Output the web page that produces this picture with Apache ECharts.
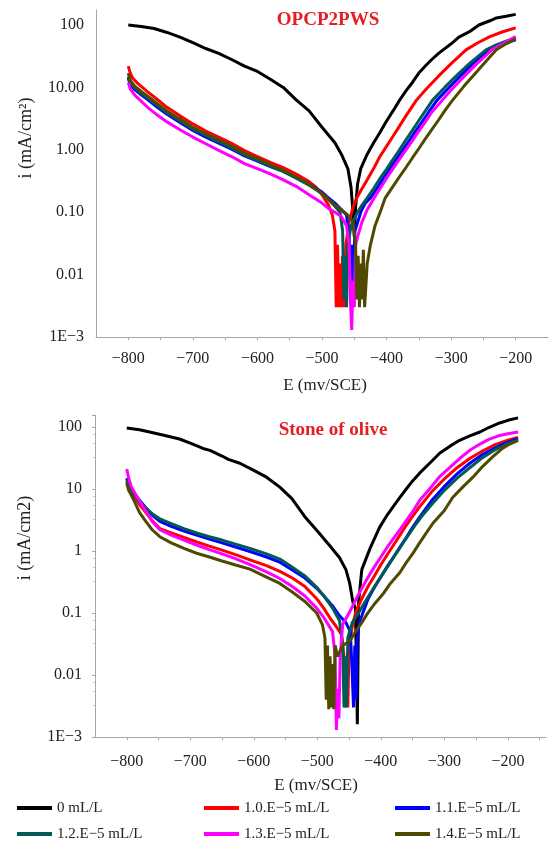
<!DOCTYPE html>
<html>
<head>
<meta charset="utf-8">
<script src="https://cdn.jsdelivr.net/npm/echarts@6/dist/echarts.min.js"></script>
<style>
  html, body { margin: 0; padding: 0; background: #ffffff; }
  #chart { width: 560px; height: 847px; }
</style>
</head>
<body>
<div id="chart"></div>
<script>
// Potentiodynamic polarization curves: [E (mV/SCE), i (mA/cm2)]
const seriesNames = ['0 mL/L', '1.0.E\u22125 mL/L', '1.1.E\u22125 mL/L', '1.2.E\u22125 mL/L', '1.3.E\u22125 mL/L', '1.4.E\u22125 mL/L'];
const seriesColors = ['#000000', '#ff0000', '#0000ff', '#005b57', '#ff00ff', '#4f4a00'];

const topTitle = 'OPCP2PWS';
const bottomTitle = 'Stone of olive';
const topYTickLabels = ['1E\u22123', '0.01', '0.10', '1.00', '10.00', '100'];
const bottomYTickLabels = ['1E\u22123', '0.01', '0.1', '1', '10', '100'];
const xTickValues = [-800, -700, -600, -500, -400, -300, -200];

// OPCP2PWS
const opcp_0 = [[-800,100],[-780,95],[-760,88],[-740,76],[-720,64],[-700,52],[-680,42],[-660,35],[-640,28],[-620,22],[-600,18],[-580,13.5],[-560,10],[-540,6.3],[-520,4.2],[-500,2.3],[-480,1.3],[-470,0.85],[-460,0.5],[-455,0.25],[-452,0.1],[-450,0.04],[-448,0.12],[-445,0.28],[-440,0.5],[-430,0.85],[-420,1.3],[-411,1.84],[-400,2.9],[-390,4.2],[-380,6.2],[-370,8.8],[-360,12],[-350,17],[-340,22],[-330,28],[-319,35.5],[-300,50],[-288,64],[-270,80],[-257,100],[-240,117],[-230,130],[-215,138],[-200,148]];
const opcp_1 = [[-800,22],[-797,17],[-793,14],[-785,11.5],[-770,8.5],[-755,6.4],[-740,4.8],[-720,3.5],[-700,2.6],[-680,2.0],[-660,1.6],[-640,1.27],[-620,0.97],[-600,0.78],[-580,0.63],[-560,0.52],[-540,0.41],[-520,0.31],[-509,0.25],[-500,0.19],[-490,0.13],[-484,0.09],[-480,0.05],[-478,0.003],[-476,0.03],[-474,0.003],[-472,0.015],[-470,0.003],[-468,0.02],[-466,0.003],[-463,0.03],[-458,0.07],[-452,0.12],[-446,0.17],[-440,0.22],[-430,0.33],[-420,0.5],[-411,0.76],[-400,1.14],[-390,1.65],[-380,2.4],[-370,3.5],[-354,6.2],[-340,9.1],[-320,15],[-300,24],[-277,40],[-260,51],[-240,65],[-220,78],[-200,90]];
const opcp_2 = [[-800,14],[-797,11],[-790,9.2],[-780,7.6],[-770,6.4],[-755,4.8],[-740,3.7],[-720,2.75],[-700,2.05],[-680,1.6],[-660,1.28],[-640,1.02],[-620,0.8],[-600,0.66],[-580,0.54],[-560,0.45],[-540,0.36],[-520,0.28],[-500,0.21],[-490,0.17],[-480,0.14],[-470,0.11],[-462,0.09],[-458,0.04],[-456,0.008],[-454,0.03],[-452,0.006],[-449,0.05],[-440,0.1],[-433,0.14],[-425,0.17],[-415,0.24],[-405,0.35],[-395,0.5],[-385,0.71],[-375,1.0],[-365,1.4],[-355,2.0],[-345,2.8],[-335,4.0],[-322,6.2],[-305,9.5],[-285,15.5],[-265,25],[-242,40],[-225,48],[-200,58]];
const opcp_3 = [[-800,15],[-797,12],[-790,9.8],[-780,8],[-770,6.8],[-755,5.1],[-740,3.9],[-720,2.9],[-700,2.15],[-680,1.7],[-660,1.35],[-640,1.07],[-620,0.83],[-600,0.68],[-580,0.55],[-560,0.45],[-540,0.35],[-520,0.27],[-500,0.2],[-490,0.16],[-480,0.125],[-472,0.1],[-468,0.05],[-466,0.004],[-464,0.02],[-462,0.003],[-460,0.03],[-455,0.06],[-445,0.1],[-438,0.13],[-430,0.17],[-420,0.24],[-410,0.35],[-400,0.49],[-391,0.68],[-380,1.0],[-370,1.45],[-360,2.05],[-350,2.95],[-340,4.2],[-329,6.2],[-310,10],[-290,16],[-270,25],[-246,40],[-230,48],[-215,55],[-200,62]];
const opcp_4 = [[-800,12],[-797,9.5],[-790,7.5],[-780,6],[-770,4.8],[-755,3.6],[-740,2.8],[-720,2.1],[-700,1.6],[-680,1.25],[-660,0.98],[-640,0.78],[-620,0.6],[-600,0.5],[-580,0.41],[-560,0.33],[-540,0.26],[-520,0.19],[-500,0.14],[-490,0.115],[-480,0.1],[-470,0.085],[-462,0.06],[-458,0.03],[-456,0.004],[-454,0.0013],[-452,0.008],[-450,0.003],[-448,0.03],[-445,0.04],[-438,0.07],[-430,0.11],[-419,0.17],[-410,0.24],[-400,0.35],[-390,0.5],[-380,0.71],[-370,1.0],[-360,1.4],[-350,2.0],[-340,2.8],[-330,4.0],[-314,6.2],[-300,9.1],[-280,15],[-260,24],[-237,40],[-220,50],[-200,65]];
const opcp_5 = [[-800,17],[-797,13],[-790,10.5],[-780,8.6],[-770,7.2],[-755,5.5],[-740,4.2],[-720,3.1],[-700,2.3],[-680,1.8],[-660,1.45],[-640,1.15],[-620,0.88],[-600,0.72],[-580,0.58],[-560,0.47],[-540,0.37],[-520,0.28],[-500,0.2],[-490,0.16],[-480,0.13],[-470,0.11],[-460,0.09],[-452,0.07],[-448,0.03],[-446,0.004],[-444,0.02],[-442,0.003],[-440,0.015],[-438,0.004],[-436,0.025],[-434,0.003],[-430,0.015],[-425,0.03],[-418,0.06],[-410,0.1],[-402,0.17],[-390,0.26],[-380,0.37],[-370,0.52],[-360,0.74],[-350,1.05],[-340,1.5],[-330,2.1],[-320,2.95],[-310,4.2],[-298,6.2],[-280,10.5],[-260,18],[-245,27],[-230,40],[-215,50],[-200,60]];

// Stone of olive
const olive_0 = [[-800,96],[-780,90],[-764,83],[-740,73],[-717,64],[-700,55],[-680,45],[-669,42],[-650,34],[-640,30],[-622,26],[-600,20],[-580,15.5],[-559,10.7],[-540,7],[-520,3.6],[-500,2.1],[-480,1.2],[-465,0.78],[-455,0.5],[-449,0.3],[-444,0.15],[-440,0.12],[-437,0.0016],[-435,0.15],[-430,0.5],[-417,1.1],[-402,2.4],[-390,3.8],[-380,5.3],[-370,7.3],[-360,10],[-350,13.5],[-339,18],[-320,28],[-307,38],[-290,50],[-276,61],[-260,72],[-244,83],[-230,98],[-213,116],[-200,128],[-184,140]];
const olive_1 = [[-800,13],[-797,10.5],[-790,8.3],[-780,5.6],[-770,4.2],[-760,3.1],[-748,2.3],[-730,1.95],[-710,1.65],[-690,1.4],[-670,1.2],[-650,1.03],[-630,0.88],[-606,0.72],[-580,0.58],[-559,0.47],[-540,0.37],[-520,0.27],[-501,0.17],[-490,0.12],[-480,0.083],[-470,0.06],[-462,0.045],[-458,0.02],[-456,0.003],[-454,0.01],[-452,0.003],[-450,0.03],[-445,0.06],[-440,0.1],[-430,0.17],[-420,0.27],[-410,0.4],[-400,0.6],[-390,0.87],[-380,1.25],[-370,1.8],[-360,2.6],[-350,3.6],[-340,5],[-320,9],[-300,14.5],[-280,22],[-260,31],[-240,41],[-220,52],[-200,61],[-184,68]];
const olive_2 = [[-800,15],[-797,11.5],[-790,9],[-780,6.6],[-770,5.0],[-760,3.8],[-748,3.0],[-730,2.5],[-710,2.1],[-690,1.8],[-670,1.55],[-650,1.35],[-630,1.17],[-606,0.98],[-580,0.8],[-559,0.66],[-540,0.5],[-520,0.37],[-501,0.25],[-490,0.19],[-476,0.13],[-465,0.09],[-455,0.07],[-448,0.05],[-445,0.01],[-443,0.003],[-441,0.03],[-439,0.004],[-437,0.04],[-434,0.07],[-430,0.09],[-420,0.17],[-410,0.26],[-400,0.38],[-390,0.56],[-380,0.8],[-370,1.15],[-360,1.65],[-350,2.4],[-340,3.4],[-320,6.5],[-300,11],[-280,17.5],[-260,26],[-240,36],[-220,46],[-200,57],[-184,65]];
const olive_3 = [[-800,14],[-797,11.5],[-790,9],[-780,6.2],[-770,4.9],[-760,4.0],[-748,3.3],[-730,2.75],[-710,2.3],[-690,1.95],[-670,1.7],[-650,1.5],[-630,1.3],[-606,1.1],[-580,0.9],[-559,0.74],[-540,0.55],[-520,0.4],[-501,0.26],[-490,0.19],[-476,0.12],[-465,0.075],[-460,0.03],[-458,0.003],[-456,0.02],[-454,0.003],[-452,0.04],[-445,0.07],[-435,0.1],[-425,0.15],[-415,0.22],[-405,0.32],[-395,0.46],[-385,0.66],[-375,0.94],[-365,1.35],[-355,1.9],[-345,2.7],[-335,3.7],[-320,5.6],[-300,9.5],[-280,15],[-260,22],[-240,32],[-220,43],[-200,54],[-184,62]];
const olive_4 = [[-800,21],[-797,15],[-793,11],[-787,8.5],[-780,6.4],[-770,4.4],[-760,3.0],[-748,2.2],[-730,1.8],[-710,1.5],[-690,1.25],[-670,1.05],[-650,0.9],[-630,0.76],[-606,0.6],[-580,0.46],[-559,0.36],[-540,0.27],[-520,0.19],[-501,0.12],[-490,0.085],[-476,0.05],[-472,0.02],[-470,0.0013],[-468,0.006],[-466,0.002],[-464,0.02],[-460,0.066],[-450,0.1],[-440,0.16],[-430,0.25],[-420,0.38],[-410,0.56],[-400,0.8],[-390,1.15],[-380,1.6],[-370,2.2],[-360,3.1],[-350,4.3],[-339,6.5],[-320,11],[-307,16],[-290,23],[-276,31],[-260,42],[-244,53],[-230,63],[-213,73],[-200,78],[-184,83]];
const olive_5 = [[-800,12.3],[-797,9.5],[-790,7],[-780,4.2],[-770,3.0],[-760,2.2],[-748,1.7],[-730,1.35],[-710,1.1],[-690,0.92],[-670,0.8],[-650,0.69],[-630,0.6],[-606,0.51],[-580,0.38],[-559,0.3],[-540,0.22],[-520,0.155],[-501,0.1],[-492,0.065],[-488,0.04],[-486,0.004],[-484,0.03],[-482,0.0028],[-480,0.02],[-478,0.003],[-476,0.015],[-474,0.0028],[-472,0.03],[-468,0.02],[-460,0.03],[-449,0.035],[-440,0.05],[-430,0.07],[-422,0.095],[-410,0.14],[-397,0.2],[-385,0.3],[-370,0.45],[-360,0.65],[-350,0.9],[-340,1.3],[-330,1.85],[-318,2.8],[-300,4.5],[-287,7.3],[-270,11],[-255,15.5],[-240,23],[-224,33],[-210,44],[-197,53],[-184,61]];

const topCurves = [opcp_0, opcp_1, opcp_2, opcp_3, opcp_4, opcp_5];
const bottomCurves = [olive_0, olive_1, olive_2, olive_3, olive_4, olive_5];

const serif = 'Liberation Serif, Times New Roman, serif';
const axisGrey = '#a6a6a6';
const textColor = '#222222';

function xLabel(v) {
  return xTickValues.indexOf(v) >= 0 ? '\u2212' + Math.abs(v) : '';
}
function logLabel(labels) {
  return function (v) {
    const e = Math.log10(v);
    const k = Math.round(e);
    if (Math.abs(e - k) > 1e-6) return '';
    return labels[k + 3] || '';
  };
}
function xAxisCfg(gridIndex, max, margin) {
  return {
    gridIndex, type: 'value', min: -850, max, interval: 50,
    axisLine: { show: true, onZero: false, lineStyle: { color: axisGrey, width: 1 } },
    axisTick: { show: true, length: 3, lineStyle: { color: axisGrey } },
    splitLine: { show: false },
    axisLabel: { formatter: xLabel, fontFamily: serif, fontSize: 16, color: textColor, margin, showMaxLabel: false, showMinLabel: false }
  };
}
function yAxisCfg(gridIndex, max, labels, margin, ticks) {
  return {
    gridIndex, type: 'log', logBase: 10, min: 0.001, max,
    axisLine: { show: true, lineStyle: { color: axisGrey, width: 1 } },
    axisTick: { show: ticks, length: 3, lineStyle: { color: axisGrey } },
    minorTick: { show: ticks, splitNumber: 4, length: 2, lineStyle: { color: '#c8c8c8' } },
    splitLine: { show: false },
    axisLabel: { formatter: logLabel(labels), fontFamily: serif, fontSize: 16, color: textColor, margin }
  };
}

const series = [];
[topCurves, bottomCurves].forEach(function (curves, g) {
  curves.forEach(function (data, i) {
    series.push({
      type: 'line', name: seriesNames[i], xAxisIndex: g, yAxisIndex: g,
      data, showSymbol: false, symbol: 'none', animation: false,
      lineStyle: { width: 3, color: seriesColors[i] },
      itemStyle: { color: seriesColors[i] }
    });
  });
});

const legendCommon = {
  orient: 'vertical', icon: 'rect', itemWidth: 35, itemHeight: 4, itemGap: 8,
  padding: 0, selectedMode: false,
  textStyle: { fontFamily: serif, fontSize: 15, color: textColor, lineHeight: 18 }
};

const chart = echarts.init(document.getElementById('chart'), null, { renderer: 'canvas' });
chart.setOption({
  backgroundColor: '#ffffff',
  animation: false,
  grid: [
    { left: 96, top: 10, width: 452, height: 327 },
    { left: 95, top: 415, width: 451, height: 322 }
  ],
  xAxis: [xAxisCfg(0, -150, 14), xAxisCfg(1, -140, 17)],
  yAxis: [yAxisCfg(0, 174, topYTickLabels, 12, false), yAxisCfg(1, 156, bottomYTickLabels, 13, true)],
  legend: [
    Object.assign({ left: 17, top: 799, data: [seriesNames[0], seriesNames[3]] }, legendCommon),
    Object.assign({ left: 204, top: 799, data: [seriesNames[1], seriesNames[4]] }, legendCommon),
    Object.assign({ left: 395, top: 799, data: [seriesNames[2], seriesNames[5]] }, legendCommon)
  ],
  graphic: [
    { type: 'text', x: 328, y: 20, style: { text: topTitle, font: 'bold 19px ' + serif, fill: '#e31e24', align: 'center', verticalAlign: 'middle' } },
    { type: 'text', x: 333, y: 430, style: { text: bottomTitle, font: 'bold 19px ' + serif, fill: '#e31e24', align: 'center', verticalAlign: 'middle' } },
    { type: 'text', x: 325, y: 386, style: { text: 'E (mv/SCE)', font: '17px ' + serif, fill: textColor, align: 'center', verticalAlign: 'middle' } },
    { type: 'text', x: 316, y: 786, style: { text: 'E (mv/SCE)', font: '17px ' + serif, fill: textColor, align: 'center', verticalAlign: 'middle' } },
    { type: 'text', x: 26, y: 138, rotation: Math.PI / 2, style: { text: 'i (mA/cm\u00b2)', font: '18px ' + serif, fill: textColor, align: 'center', verticalAlign: 'middle' } },
    { type: 'text', x: 25, y: 538, rotation: Math.PI / 2, style: { text: 'i (mA/cm2)', font: '18px ' + serif, fill: textColor, align: 'center', verticalAlign: 'middle' } }
  ],
  series
});
</script>
</body>
</html>
